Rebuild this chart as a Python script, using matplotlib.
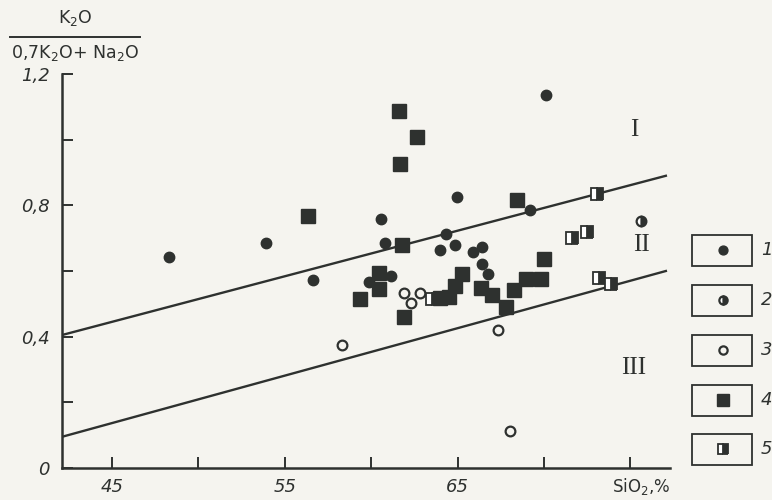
import numpy as np
import matplotlib.pyplot as plt
from matplotlib.patches import Rectangle
from matplotlib.lines import Line2D

plt.rc('font', family='DejaVu Sans')

tinta = '#2e312f'
fondo = '#f5f4ef'

# Datos: SiO2 (%) y K2O/(0,7K2O+Na2O)
x_1 = [48.30, 53.91, 56.61, 59.86, 60.54, 60.79, 61.12, 64.36, 63.97, 64.83,
       64.94, 65.91, 66.43, 66.43, 66.76, 69.19, 70.10]
y_1 = [0.644, 0.685, 0.573, 0.565, 0.758, 0.684, 0.585, 0.713, 0.665, 0.680,
       0.825, 0.659, 0.673, 0.621, 0.591, 0.787, 1.135]

x_2 = [75.61]
y_2 = [0.751]

x_3 = [58.32, 61.89, 62.28, 62.81, 67.34, 68.03]
y_3 = [0.375, 0.533, 0.504, 0.534, 0.421, 0.113]

x_4 = [56.32, 59.38, 60.44, 60.44, 61.60, 62.66, 61.64, 61.79, 61.89, 64.01,
       64.50, 64.88, 65.27, 66.33, 67.01, 67.78, 68.26, 68.94, 68.46, 69.85, 70.00]
y_4 = [0.768, 0.514, 0.595, 0.545, 1.086, 1.008, 0.926, 0.680, 0.461, 0.517,
       0.522, 0.555, 0.591, 0.548, 0.527, 0.490, 0.543, 0.575, 0.817, 0.575, 0.636]

x_5 = [63.53, 71.65, 72.48, 73.10, 73.19, 73.87]
y_5 = [0.514, 0.700, 0.720, 0.835, 0.580, 0.560]

# Líneas límite entre campos I, II y III
x_lim_lineas = [42.1, 77.06]
y_sup = [0.405, 0.890]
y_inf = [0.095, 0.600]

campos = ['I', 'II', 'III']
x_campos = [75.26, 75.65, 75.2]
y_campos = [1.03, 0.68, 0.305]

x_ticks = [45, 50, 55, 60, 65, 70, 75]
x_etiquetas = ['45', '', '55', '', '65', '', '']
y_ticks = [0, 0.2, 0.4, 0.6, 0.8, 1.0, 1.2]
y_etiquetas = ['0', '', '0,4', '', '0,8', '', '1,2']

leyenda = ['1', '2', '3', '4', '5']

estilos = [
    dict(marker='o', ms=7.5, mfc=tinta, mec=tinta, mew=1.0),
    dict(marker='o', ms=7.0, mfc=tinta, mfcalt='white', fillstyle='right', mec=tinta, mew=1.6),
    dict(marker='o', ms=7.0, mfc='none', mec=tinta, mew=1.6),
    dict(marker='s', ms=9.5, mfc=tinta, mec=tinta, mew=1.0),
    dict(marker='s', ms=8.5, mfc=tinta, mfcalt='white', fillstyle='right', mec=tinta, mew=1.3),
]

fig = plt.figure(figsize=(7.72, 5.0), dpi=100, facecolor=fondo)
ax = fig.add_axes([62/772, 1 - 468/500, 608/772, 394/500])
ax.set_facecolor('none')

ax.plot(x_lim_lineas, y_sup, color=tinta, lw=1.7, zorder=2)
ax.plot(x_lim_lineas, y_inf, color=tinta, lw=1.7, zorder=2)

for xs, ys, est in zip([x_1, x_2, x_3, x_4, x_5], [y_1, y_2, y_3, y_4, y_5], estilos):
    ax.plot(xs, ys, ls='none', zorder=3, **est)

for c, xc, yc in zip(campos, x_campos, y_campos):
    ax.text(xc, yc, c, family='Liberation Serif', fontsize=18, color=tinta,
            ha='center', va='center')

ax.set_xlim(42.1, 77.3)
ax.set_ylim(0, 1.2)
ax.spines['top'].set_visible(False)
ax.spines['right'].set_visible(False)
for s in ['left', 'bottom']:
    ax.spines[s].set_linewidth(1.8)
    ax.spines[s].set_color(tinta)
ax.set_xticks(x_ticks)
ax.set_xticklabels(x_etiquetas, style='italic', fontsize=13, color=tinta)
ax.set_yticks(y_ticks)
ax.set_yticklabels(y_etiquetas, style='italic', fontsize=13, color=tinta)
ax.tick_params(direction='in', length=8, width=1.4, color=tinta, pad=7)
ax.tick_params(axis='y', pad=9)

ax.text(0.953, -0.047, r'SiO$_2$,%', transform=ax.transAxes, fontsize=12,
        color=tinta, ha='center', va='center')

# Rótulo del eje y en forma de fracción
fig.text(75/772, 1 - 18/500, r'K$_2$O', fontsize=12.5, color=tinta, ha='center', va='center')
fig.add_artist(Line2D([10/772, 140/772], [1 - 37/500, 1 - 37/500], color=tinta, lw=1.4))
fig.text(75/772, 1 - 53/500, r'0,7K$_2$O+ Na$_2$O', fontsize=12.5, color=tinta,
         ha='center', va='center')

# Leyenda con recuadros
axl = fig.add_axes([0, 0, 1, 1])
axl.set_xlim(0, 772)
axl.set_ylim(500, 0)
axl.axis('off')
y_cajas = [250, 300, 350, 400, 449]
for yc, est, lab in zip(y_cajas, estilos, leyenda):
    axl.add_patch(Rectangle((692, yc - 15.5), 60, 31, fill=False, ec=tinta, lw=1.3))
    e = dict(est)
    e['ms'] = e['ms'] * 0.85
    axl.plot([722.5], [yc], ls='none', **e)
    axl.text(761, yc, lab, fontsize=13, style='italic', color=tinta, ha='left', va='center')

fig.savefig('out.png', dpi=100, facecolor=fondo)
